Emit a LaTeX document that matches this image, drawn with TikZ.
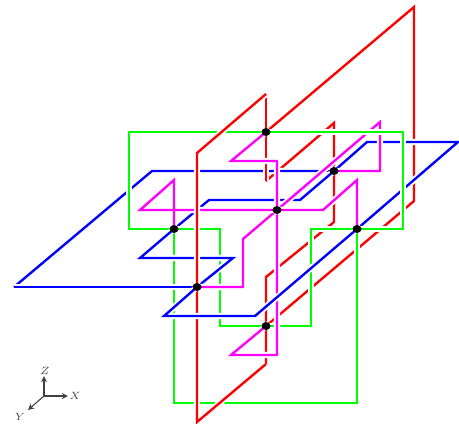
\documentclass[tikz,border=0pt]{standalone}
\usepackage{tikz}
\definecolor{lgreen}{rgb}{0,1,0}
\definecolor{lmagenta}{rgb}{1,0,1}
\tikzset{
  strand/.style={line width=1.35pt, miter limit=10, preaction={draw, white, line width=3.5pt}},
  axis/.style={->, >=stealth, black!75, line width=0.6pt},
  axislabel/.style={black!70, inner sep=0pt, font=\fontsize{6.5}{6.5}\selectfont}
}

\begin{document}
\begin{tikzpicture}[x=0.02cm, y=-0.02cm]
        \useasboundingbox (0,0) rectangle (459,423);

        % Crossing points
        \coordinate (p1) at (266,132);
        \coordinate (p2) at (334,171);
        \coordinate (p3) at (277,210);
        \coordinate (p4) at (174,229);
        \coordinate (p5) at (357,229);
        \coordinate (p6) at (197,287);
        \coordinate (p7) at (266,326);

        % Lowest red strands
        \draw[strand, red] (266,181) -- (334,123) -- (334,222) -- (266,277) -- (266,364);
        \draw[strand, red] (p1) -- (414,7) -- (414,201) -- (p7);

        % Lowest blue strands
        \draw[strand, blue] (14,287) -- (152,171) -- (p2);
        \draw[strand, blue] (p4) -- (209,200) -- (300,200) -- (p2) -- (367,142) -- (458,142) -- (p5);

        % Short red strand and upper right magenta
        \draw[strand, red] (266,94) -- (p1) -- (266,181);
        \draw[strand, lmagenta] (p3) -- (380,122) -- (380,171) -- (p2);

        % Green
        \draw[strand, lgreen] (p4) -- (174,403) -- (357,403) -- (p5);
        \draw[strand, lgreen] (129,132) -- (p1) -- (403,132) -- (403,229) -- (p5) -- (311,229) -- (311,326)
            -- (p7) -- (220,326) -- (220,229) -- (p4) -- (129,229) -- cycle;

        % Blue over green
        \draw[strand, blue] (14,287) -- (p6);
        \draw[strand, blue] (p6) -- (233,258) -- (140,258) -- (p4);

        % Magenta
        \draw[strand, lmagenta] (p1) -- (231,161) -- (277,161) -- (p3) -- (277,355) -- (231,355) -- (p7);
        \draw[strand, lmagenta] (p3) -- (243,239) -- (243,287) -- (p6);
        \draw[strand, lmagenta] (p4) -- (174,180) -- (140,210) -- (p3);
        \draw[strand, lmagenta] (p3) -- (323,210) -- (357,180) -- (p5);

        % Red on top
        \draw[strand, red] (266,364) -- (197,422) -- (197,153) -- (266,94);

        % Blue on top
        \draw[strand, blue] (p6) -- (164,316) -- (255,316) -- (p5);

        % Dots
        \foreach \p in {p1,p2,p3,p4,p5,p6,p7}
            \fill[black] (\p) ellipse (4.5 and 4);

        % Axes
        \coordinate (o) at (44,396);
        \node[axislabel] (xlabel) at (75,396) {$X$};
        \node[axislabel] (ylabel) at (20,417) {$Y$};
        \node[axislabel] (zlabel) at (45,371) {$Z$};
        \draw[axis] (o) -- (68,396);
        \draw[axis] (o) -- (28,410);
        \draw[axis] (o) -- (44,376);
    \end{tikzpicture}
\end{document}
